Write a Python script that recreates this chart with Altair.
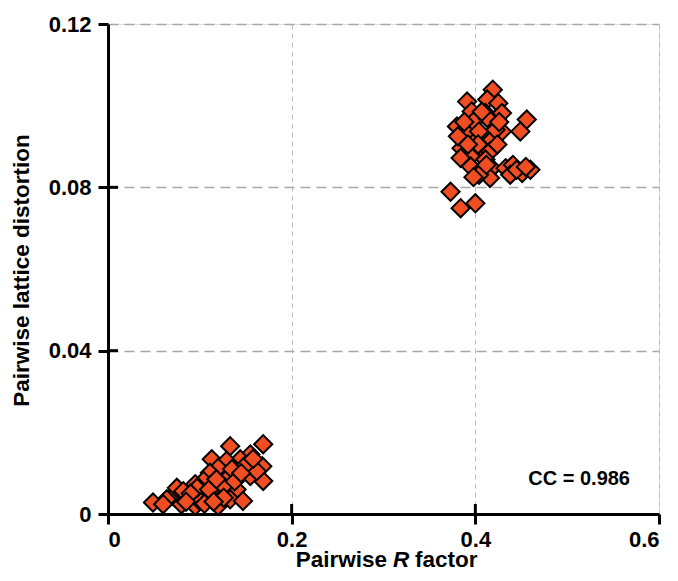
import altair as alt
import pandas as pd

# Upper cluster (pairwise R factor, pairwise lattice distortion)
upper_r = [0.419, 0.391, 0.413, 0.425, 0.411, 0.396, 0.429, 0.456, 0.449, 0.380,
           0.391, 0.398, 0.413, 0.429, 0.385, 0.381, 0.400, 0.418, 0.409, 0.395,
           0.416, 0.384, 0.411, 0.395, 0.418, 0.405, 0.433, 0.441, 0.451, 0.460,
           0.416, 0.404, 0.438, 0.373, 0.384, 0.400, 0.422, 0.404,
           0.407, 0.403, 0.392, 0.424, 0.412, 0.445, 0.455, 0.398, 0.426, 0.388]
upper_d = [0.1039, 0.1010, 0.1015, 0.1006, 0.0982, 0.0986, 0.0982, 0.0966, 0.0937, 0.0949,
           0.0933, 0.0961, 0.0970, 0.0937, 0.0896, 0.0925, 0.0913, 0.0917, 0.0892, 0.0876,
           0.0888, 0.0872, 0.0868, 0.0851, 0.0847, 0.0839, 0.0847, 0.0855, 0.0835, 0.0843,
           0.0823, 0.0831, 0.0831, 0.0789, 0.0749, 0.0761, 0.0941, 0.0937,
           0.0985, 0.0905, 0.0905, 0.0905, 0.0855, 0.0843, 0.0850, 0.0825, 0.0960, 0.0960]

# Lower cluster
lower_r = [0.169, 0.133, 0.155, 0.168, 0.169, 0.144, 0.113, 0.129, 0.120, 0.111,
           0.140, 0.155, 0.129, 0.104, 0.095, 0.108, 0.088, 0.122, 0.140, 0.133,
           0.120, 0.147, 0.071, 0.064, 0.049, 0.060, 0.080, 0.095, 0.100, 0.075,
           0.082, 0.115, 0.126, 0.162, 0.097,
           0.110, 0.118, 0.135, 0.150, 0.126, 0.090, 0.105, 0.138, 0.158, 0.145,
           0.085, 0.115]
lower_d = [0.0171, 0.0166, 0.0146, 0.0117, 0.0081, 0.0134, 0.0134, 0.0130, 0.0113, 0.0101,
           0.0105, 0.0093, 0.0085, 0.0081, 0.0073, 0.0048, 0.0040, 0.0048, 0.0060, 0.0036,
           0.0020, 0.0032, 0.0044, 0.0036, 0.0028, 0.0024, 0.0024, 0.0020, 0.0032, 0.0064,
           0.0056, 0.0064, 0.0068, 0.0105, 0.0064,
           0.0060, 0.0085, 0.0110, 0.0120, 0.0040, 0.0050, 0.0025, 0.0080, 0.0135, 0.0100,
           0.0030, 0.0030]

x_ticks = [0, 0.2, 0.4, 0.6]
y_ticks = [0, 0.04, 0.08, 0.12]
inner_x_ticks = [0.2, 0.4]
inner_y_ticks = [0.04, 0.08]

annotation = "CC = 0.986"
x_title_parts = ["Pairwise", "R", "factor"]
y_title = "Pairwise lattice distortion"

W, H = 551, 490
FONT = "Liberation Sans"

df = pd.DataFrame({"r": upper_r + lower_r, "d": upper_d + lower_d})

x_scale = alt.Scale(domain=[0, 0.6], nice=False, zero=False)
y_scale = alt.Scale(domain=[0, 0.12], nice=False, zero=False)

x_axis = alt.Axis(values=x_ticks, title=None,
                  labelExpr="datum.value == 0 ? '0' : format(datum.value, '.1f')",
                  labelFont=FONT, labelFontSize=22, labelFontWeight="bold", labelColor="black",
                  labelPadding=5, tickSize=10, tickWidth=3, tickColor="black",
                  domainColor="black", domainWidth=3,
                  grid=True, gridColor="#bdbdbd", gridDash=[5, 4], gridWidth=1)
y_axis = alt.Axis(values=y_ticks, title=y_title,
                  labelExpr="datum.value == 0 ? '0' : format(datum.value, '.2f')",
                  labelFont=FONT, labelFontSize=22, labelFontWeight="bold", labelColor="black",
                  labelPadding=7, tickSize=10, tickWidth=3, tickColor="black",
                  domainColor="black", domainWidth=3,
                  grid=True, gridColor="#a8a8a8", gridDash=[10, 6], gridWidth=1.5,
                  titleFont=FONT, titleFontSize=22.5, titleFontWeight="bold", titleColor="black",
                  titleAngle=270, titleX=-87, titleY=H / 2 + 1, titleAlign="center",
                  titleBaseline="middle")

points = alt.Chart(df).mark_point(
    shape="diamond", filled=True, fill="#F04E22", stroke="black",
    strokeWidth=2, size=330, opacity=1
).encode(
    x=alt.X("r:Q", scale=x_scale, axis=x_axis),
    y=alt.Y("d:Q", scale=y_scale, axis=y_axis),
)

inner_y = alt.Chart(pd.DataFrame({"v": inner_y_ticks})).mark_rule(
    color="black", strokeWidth=3
).encode(y=alt.Y("v:Q", scale=y_scale), x=alt.value(0), x2=alt.value(10))

inner_x = alt.Chart(pd.DataFrame({"v": inner_x_ticks})).mark_rule(
    color="black", strokeWidth=3
).encode(x=alt.X("v:Q", scale=x_scale), y=alt.value(H), y2=alt.value(H - 10))

cc = alt.Chart(pd.DataFrame({"t": [annotation]})).mark_text(
    font=FONT, fontSize=20, fontWeight="bold", color="black",
    align="right", baseline="alphabetic"
).encode(text="t:N", x=alt.value(W - 29), y=alt.value(H - 29))

TY = H + 53
title_base = dict(font=FONT, fontSize=22.5, fontWeight="bold", color="black",
                  baseline="alphabetic")
t1 = alt.Chart(pd.DataFrame({"t": [x_title_parts[0]]})).mark_text(
    align="right", **title_base).encode(text="t:N", x=alt.value(279), y=alt.value(TY))
t2 = alt.Chart(pd.DataFrame({"t": [x_title_parts[1]]})).mark_text(
    align="center", fontStyle="italic", **title_base).encode(text="t:N", x=alt.value(293), y=alt.value(TY))
t3 = alt.Chart(pd.DataFrame({"t": [x_title_parts[2]]})).mark_text(
    align="left", **title_base).encode(text="t:N", x=alt.value(307), y=alt.value(TY))

chart = alt.layer(points, inner_y, inner_x, cc, t1, t2, t3).properties(
    width=W, height=H,
    autosize=alt.AutoSizeParams(type="none"),
    padding={"left": 100, "top": 16, "right": 11, "bottom": 59},
).configure_view(stroke="black", strokeWidth=3).configure(background="white")

chart.save("out.html", embed_options={"renderer": "svg", "actions": False})
